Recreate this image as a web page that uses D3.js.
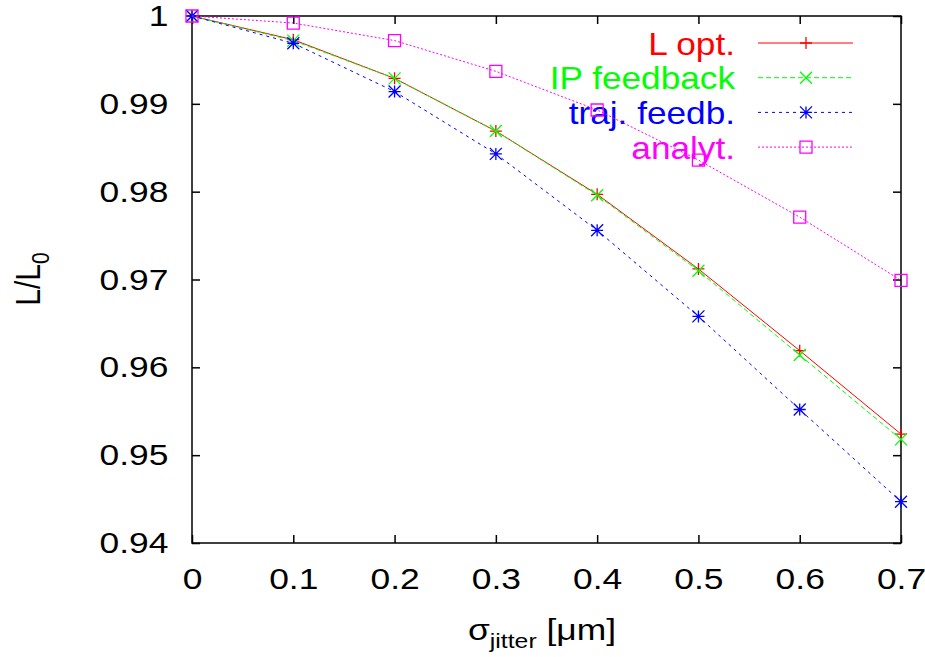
<!DOCTYPE html>
<html>
<head>
<meta charset="utf-8">
<script src="https://cdn.jsdelivr.net/npm/d3@7"></script>
<style>
    body { margin: 0; background: white; }
    svg { font-family: "Liberation Sans", Arial, sans-serif; }
</style>
</head>
<body>
<div class="chart"></div>
<script>
const sigma = [0, 0.1, 0.2, 0.3, 0.4, 0.5, 0.6, 0.7];
const lOpt = [1, 0.9973, 0.9929, 0.9869, 0.9797, 0.9712, 0.9619, 0.9524];
const ipFeedback = [1, 0.9972, 0.9929, 0.9869, 0.9796, 0.9710, 0.9614, 0.9518];
const trajFeedb = [1, 0.9969, 0.9914, 0.9843, 0.9756, 0.9658, 0.9552, 0.9447];
const analyt = [1, 0.9992, 0.9972, 0.9937, 0.9893, 0.9836, 0.9771, 0.9699];

const xTicks = [0, 0.1, 0.2, 0.3, 0.4, 0.5, 0.6, 0.7];
const yTicks = [0.94, 0.95, 0.96, 0.97, 0.98, 0.99, 1];

const seriesNames = ["L opt.", "IP feedback", "traj. feedb.", "analyt."];
const seriesValues = [lOpt, ipFeedback, trajFeedb, analyt];

const svgW = 925;
const svgH = 657;
const margin = {top: 16, right: 24, bottom: 114, left: 192};
// the reference text is a bit wider than plain Helvetica
const stretch = 1.18;
const keyStretch = 1.1;

const styles = [
    {color: "#ff0000", dash: null, marker: "plus"},
    {color: "#00ff00", dash: "5,3", marker: "cross"},
    {color: "#0000ff", dash: "3,4", marker: "star"},
    {color: "#ff00ff", dash: "2,2", marker: "square"}
];

const x = d3.scaleLinear()
    .domain([0, 0.7])
    .range([margin.left, svgW - margin.right]);
const y = d3.scaleLinear()
    .domain([0.94, 1])
    .range([svgH - margin.bottom, margin.top]);

const svg = d3.select("div.chart")
    .append("svg")
    .attr("width", svgW)
    .attr("height", svgH);

// axes with inward ticks, mirrored on top and right
const tickLen = 8;
const fmt = d => d === 0 ? "0" : d === 1 ? "1" : String(d);

svg.append("g")
    .attr("transform", `translate(0,${y(0.94)})`)
    .call(d3.axisBottom(x).tickValues(xTicks).tickSize(-tickLen).tickPadding(25).tickFormat(fmt))
    .call(g => g.select(".domain").remove());
svg.append("g")
    .attr("transform", `translate(0,${y(1)})`)
    .call(d3.axisTop(x).tickValues(xTicks).tickSize(-tickLen).tickFormat(""))
    .call(g => g.select(".domain").remove());
svg.append("g")
    .attr("transform", `translate(${x(0)},0)`)
    .call(d3.axisLeft(y).tickValues(yTicks).tickSize(-tickLen).tickPadding(20).tickFormat(fmt))
    .call(g => g.select(".domain").remove());
svg.append("g")
    .attr("transform", `translate(${x(0.7)},0)`)
    .call(d3.axisRight(y).tickValues(yTicks).tickSize(-tickLen).tickFormat(""))
    .call(g => g.select(".domain").remove());

svg.selectAll(".tick line").attr("stroke", "#000").attr("stroke-width", 1.5);
svg.selectAll(".tick text")
    .attr("fill", "#000")
    .attr("transform", `scale(${stretch},1)`)
    .style("font-size", "30px")
    .style("font-family", "'Liberation Sans', Arial, sans-serif");

svg.append("rect")
    .attr("x", x(0))
    .attr("y", y(1))
    .attr("width", x(0.7) - x(0))
    .attr("height", y(0.94) - y(1))
    .attr("fill", "none")
    .attr("stroke", "#000")
    .attr("stroke-width", 1.5);

// axis labels
svg.append("text")
    .attr("transform", `translate(40,279) scale(${stretch},1) rotate(-90)`)
    .attr("text-anchor", "middle")
    .style("font-size", "30px")
    .html('L/L<tspan dy="8" style="font-size:21px">0</tspan>');

svg.append("text")
    .attr("transform", `translate(542,640) scale(${stretch},1)`)
    .attr("text-anchor", "middle")
    .style("font-size", "30px")
    .html('σ<tspan dy="8" style="font-size:21px">jitter</tspan><tspan dy="-8"> [μm]</tspan>');

function drawMarker(g, kind, cx, cy, color) {
    const s = 6;
    let path = "";
    if (kind === "plus") {
        path = `M${cx - s},${cy}H${cx + s}M${cx},${cy - s}V${cy + s}`;
    } else if (kind === "cross") {
        path = `M${cx - s},${cy - s}L${cx + s},${cy + s}M${cx - s},${cy + s}L${cx + s},${cy - s}`;
    } else if (kind === "star") {
        path = `M${cx - s},${cy}H${cx + s}M${cx},${cy - s}V${cy + s}` +
            `M${cx - s},${cy - s}L${cx + s},${cy + s}M${cx - s},${cy + s}L${cx + s},${cy - s}`;
    } else {
        path = `M${cx - s},${cy - s}H${cx + s}V${cy + s}H${cx - s}Z`;
    }
    g.append("path")
        .attr("d", path)
        .attr("fill", "none")
        .attr("stroke", color)
        .attr("stroke-width", 1.3);
}

const line = d3.line()
    .x((d, i) => x(sigma[i]))
    .y(d => y(d));

seriesValues.forEach((values, k) => {
    const st = styles[k];
    const g = svg.append("g");

    // key entry
    const ky = 43 + k * 34.7;
    g.append("text")
        .attr("transform", `translate(735,${ky + 11.5}) scale(${keyStretch},1)`)
        .attr("text-anchor", "end")
        .attr("fill", st.color)
        .style("font-size", "32px")
        .text(seriesNames[k]);
    g.append("line")
        .attr("x1", 758).attr("x2", 853)
        .attr("y1", ky).attr("y2", ky)
        .attr("stroke", st.color)
        .attr("stroke-width", 1)
        .attr("stroke-dasharray", st.dash);
    drawMarker(g, st.marker, 806, ky, st.color);

    g.append("path")
        .datum(values)
        .attr("d", line)
        .attr("fill", "none")
        .attr("stroke", st.color)
        .attr("stroke-width", 1)
        .attr("stroke-dasharray", st.dash);

    values.forEach((v, i) => drawMarker(g, st.marker, x(sigma[i]), y(v), st.color));
});
</script>
</body>
</html>
